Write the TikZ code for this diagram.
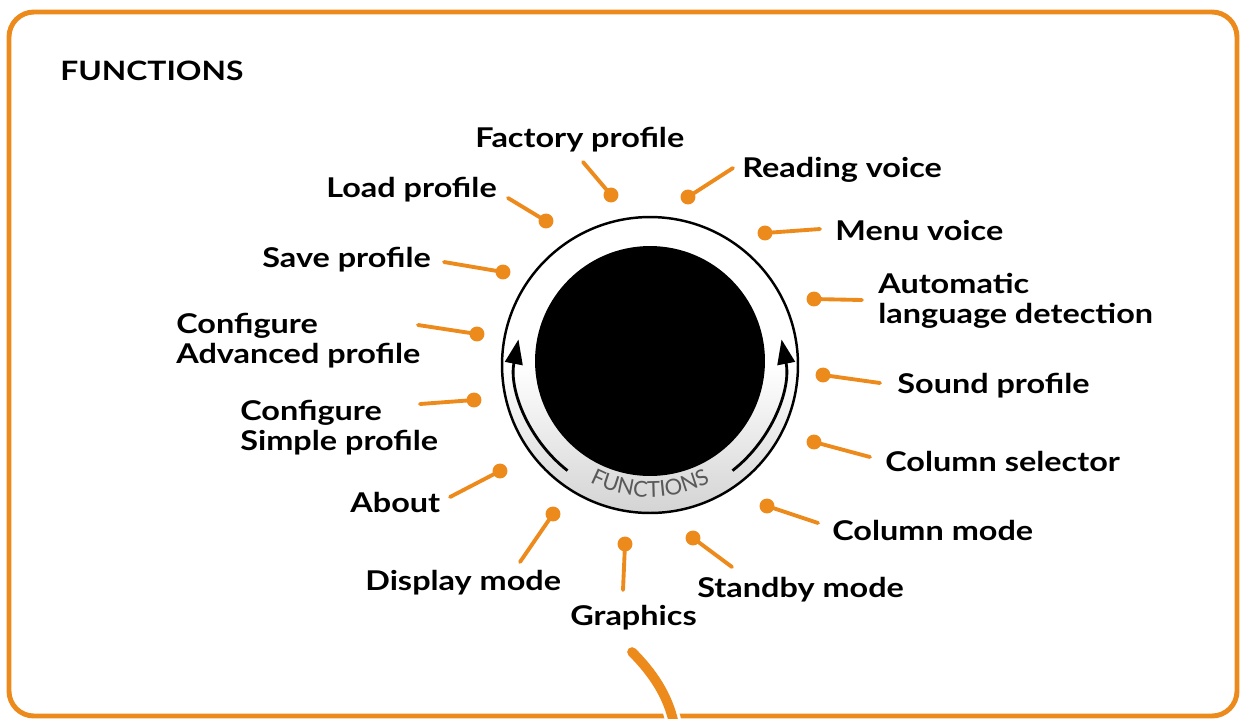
\documentclass[tikz,border=0pt]{standalone}
\usepackage{fontspec}
\setmainfont{Lato}[FakeStretch=1.19]
\newfontfamily\ringfont{Lato}
\usetikzlibrary{arrows.meta,decorations.text}
\definecolor{dialorange}{RGB}{236,138,28}
\tikzset{
  lbl/.style={anchor=base west,inner sep=0pt,align=left,font=\fontsize{15.5}{17}\selectfont\bfseries},
  dot/.style={circle,fill=dialorange,inner sep=0pt,minimum size=8.5pt},
  lead/.style={draw=dialorange,line width=2.2pt,line cap=round},
  turn/.style={draw=black,line width=1.6pt,-{Triangle[width=10pt,length=14pt]}},
  tail/.style={draw=dialorange,line width=5.5pt,line cap=round,preaction={draw=white,line width=9pt}}
}
\begin{document}
\begin{tikzpicture}[x=0.02cm,y=-0.02cm]
   \useasboundingbox (0,0) rectangle (1243,718);
   \draw [draw=dialorange,line width=2.8pt,rounded corners=0.5cm] (9,12) rectangle (1237,716);

   \node (Title) at (60,80) [lbl,font=\fontsize{15.2}{17}\selectfont\bfseries] {FUNCTIONS};

   % the dial
   \node (Ring) at (650,365) [circle,draw,line width=1.4pt,minimum size=5.92cm,top color=white,bottom color=black!17,middle color=white] {};
   \node (Disc) at (650,361) [circle,fill=black,minimum size=4.6cm] {};
   \draw [turn] (Ring.center) ++(128:134) arc [start angle=128,end angle=191,radius=134];
   \draw [turn] (Ring.center) ++(52:134) arc [start angle=52,end angle=-11,radius=134];
   \path [decorate,decoration={text along path,text align=center,text={|\ringfont\fontsize{12.5}{12.5}\selectfont\color{black!65}|FUNCTIONS}}]
      (Ring.center) ++(125:132) arc [start angle=125,end angle=55,radius=132];

   \coordinate (TailTop) at (632,652);
   \coordinate (TailEnd) at (674,724);
   \draw [tail] (TailTop) .. controls (652,672) and (668,695) .. (TailEnd);

   % labels
   \node (FactoryProfile) at (475,147) [lbl] {Factory profile};
   \node (ReadingVoice) at (742,177) [lbl] {Reading voice};
   \node (LoadProfile) at (326,197) [lbl] {Load profile};
   \node (MenuVoice) at (835,240) [lbl] {Menu voice};
   \node (SaveProfile) at (262,267) [lbl] {Save profile};
   \node (AutoLanguage) at (878,323) [lbl] {Automatic\\language detection};
   \node (ConfigureAdvanced) at (176,363) [lbl] {Configure\\Advanced profile};
   \node (SoundProfile) at (897,393) [lbl] {Sound profile};
   \node (ConfigureSimple) at (240,450) [lbl] {Configure\\Simple profile};
   \node (ColumnSelector) at (885,471) [lbl] {Column selector};
   \node (About) at (350,512) [lbl] {About};
   \node (ColumnMode) at (832,540) [lbl] {Column mode};
   \node (DisplayMode) at (365,590) [lbl] {Display mode};
   \node (StandbyMode) at (697,597) [lbl] {Standby mode};
   \node (Graphics) at (570,625) [lbl] {Graphics};

   % dots round the dial
   \node (dFactory) at (611,195) [dot] {};
   \node (dReading) at (688,197) [dot] {};
   \node (dLoad) at (546,221) [dot] {};
   \node (dMenu) at (765,233) [dot] {};
   \node (dSave) at (503,272) [dot] {};
   \node (dAuto) at (814,299) [dot] {};
   \node (dAdvanced) at (477,334) [dot] {};
   \node (dSound) at (823,375) [dot] {};
   \node (dSimple) at (474,400) [dot] {};
   \node (dSelector) at (814,442) [dot] {};
   \node (dAbout) at (500,471) [dot] {};
   \node (dColumn) at (767,506) [dot] {};
   \node (dDisplay) at (553,514) [dot] {};
   \node (dStandby) at (693,538) [dot] {};
   \node (dGraphics) at (625,544) [dot] {};

   \coordinate (eFactory) at (583,162);
   \coordinate (eReading) at (733,168);
   \coordinate (eLoad) at (508,198);
   \coordinate (eMenu) at (820,229);
   \coordinate (eSave) at (444,262);
   \coordinate (eAuto) at (862,300);
   \coordinate (eAdvanced) at (418,325);
   \coordinate (eSound) at (880,383);
   \coordinate (eSimple) at (420,404);
   \coordinate (eSelector) at (870,457);
   \coordinate (eAbout) at (450,497);
   \coordinate (eColumn) at (818,523);
   \coordinate (eDisplay) at (520,562);
   \coordinate (eStandby) at (732,567);
   \coordinate (eGraphics) at (623,590);

   \draw [lead] (dFactory.center) -- (eFactory);
   \draw [lead] (dReading.center) -- (eReading);
   \draw [lead] (dLoad.center) -- (eLoad);
   \draw [lead] (dMenu.center) -- (eMenu);
   \draw [lead] (dSave.center) -- (eSave);
   \draw [lead] (dAuto.center) -- (eAuto);
   \draw [lead] (dAdvanced.center) -- (eAdvanced);
   \draw [lead] (dSound.center) -- (eSound);
   \draw [lead] (dSimple.center) -- (eSimple);
   \draw [lead] (dSelector.center) -- (eSelector);
   \draw [lead] (dAbout.center) -- (eAbout);
   \draw [lead] (dColumn.center) -- (eColumn);
   \draw [lead] (dDisplay.center) -- (eDisplay);
   \draw [lead] (dStandby.center) -- (eStandby);
   \draw [lead] (dGraphics.center) -- (eGraphics);

\end{tikzpicture}
\end{document}
